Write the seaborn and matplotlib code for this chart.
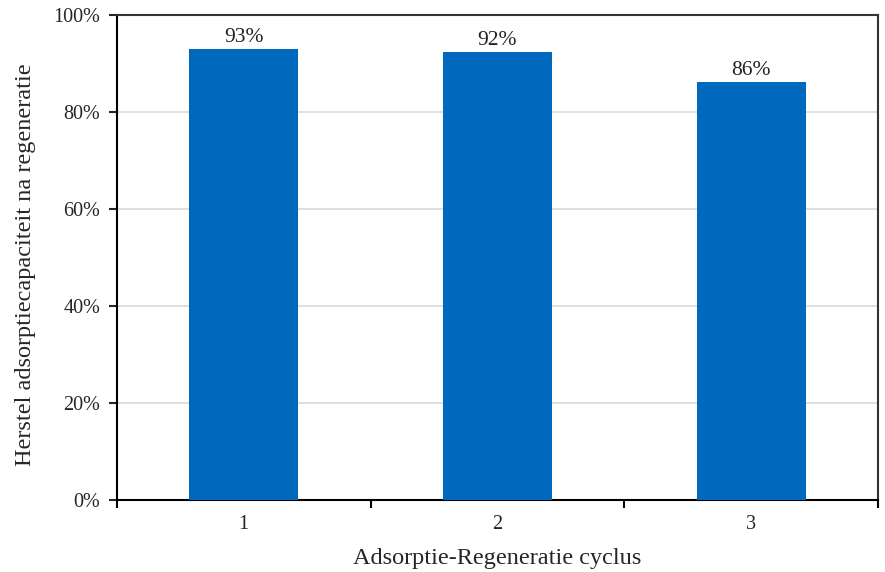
import numpy as np
import pandas as pd
import seaborn as sns
import matplotlib.pyplot as plt
from matplotlib.ticker import PercentFormatter, FixedLocator

# Data
cycli = ['1', '2', '3']
herstel = [93.0, 92.4, 86.1]
labels = ['93%', '92%', '86%']

df = pd.DataFrame({'cyclus': cycli, 'herstel': herstel})

sns.set_style('white')
plt.rcParams['font.family'] = ['Liberation Serif', 'DejaVu Serif']

fig = plt.figure(figsize=(8.85, 5.72), dpi=100)
ax = fig.add_axes([0.132, 0.126, 0.860, 0.848])

sns.barplot(x='cyclus', y='herstel', data=df, color='#0068BD', width=0.43,
            saturation=1, linewidth=0, ax=ax, zorder=3)

for i, (v, t) in enumerate(zip(herstel, labels)):
    ax.text(i, v + 0.4, t, ha='center', va='bottom', fontsize=15.5, color='#222222')

ax.set_xlim(-0.5, 2.5)
ax.set_ylim(0, 100)
ax.set_yticks(np.arange(0, 101, 20))
ax.yaxis.set_major_formatter(PercentFormatter(decimals=0))
ax.yaxis.grid(True, color='#d9d9d9', linewidth=1.2, zorder=0)
ax.set_axisbelow(True)

# tick marks between categories, like the original
ax.xaxis.set_minor_locator(FixedLocator([-0.5, 0.5, 1.5, 2.5]))
ax.tick_params(axis='x', which='major', length=0, pad=11, labelsize=14.5)
ax.tick_params(axis='x', which='minor', length=6, width=1.5, direction='out',
               bottom=True, color='black')
ax.tick_params(axis='y', which='major', length=6, width=1.5, direction='out',
               left=True, labelsize=14.5, pad=6)

for s in ax.spines.values():
    s.set_color('black')
    s.set_linewidth(1.5)
ax.spines['top'].set_color('#333333')
ax.spines['right'].set_color('#333333')

ax.set_xlabel('Adsorptie-Regeneratie cyclus', fontsize=17.5, labelpad=10)
ax.set_ylabel('Herstel adsorptiecapaciteit na regeneratie', fontsize=17.5)
ax.yaxis.set_label_coords(-0.106, 0.486)

plt.savefig('out.png', dpi=100)
